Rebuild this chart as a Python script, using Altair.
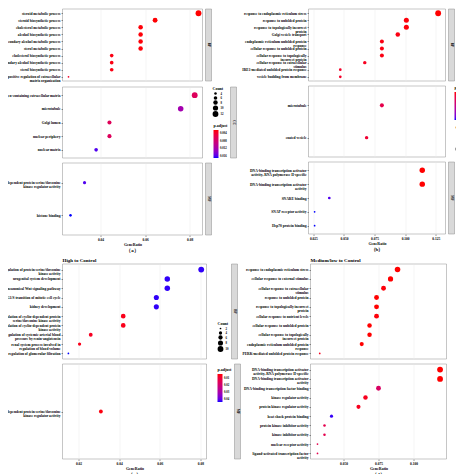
import altair as alt
import pandas as pd

FONT = "Liberation Serif"

# ---------------- (a) High to Control ----------------
a_title = "High to Control"
a_caption = "（a）"
a_bp_terms = ["steroid metabolic process", "steroid biosynthetic process", "cholesterol metabolic process",
              "alcohol biosynthetic process", "secondary alcohol metabolic process", "sterol metabolic process",
              "cholesterol biosynthetic process", "secondary alcohol biosynthetic process",
              "sterol biosynthetic process", "positive regulation of extracellular|matrix organization"]
a_bp_ratio = [0.084, 0.0645, 0.058, 0.058, 0.058, 0.058, 0.045, 0.045, 0.045, 0.0256]
a_bp_count = [12, 9, 8, 8, 8, 8, 6, 6, 6, 3]
a_bp_padj = [0.0025, 0.0026, 0.0027, 0.0027, 0.0027, 0.0027, 0.0030, 0.0030, 0.0030, 0.0040]
a_cc_terms = ["collagen-containing extracellular matrix", "microtubule", "Golgi lumen",
              "nuclear periphery", "nuclear matrix"]
a_cc_ratio = [0.0823, 0.076, 0.044, 0.044, 0.038]
a_cc_count = [12, 11, 7, 7, 6]
a_cc_padj = [0.0070, 0.0125, 0.0068, 0.0070, 0.0165]
a_mf_terms = ["cyclin-dependent protein serine/threonine|kinase regulator activity", "histone binding"]
a_mf_ratio = [0.0328, 0.0265]
a_mf_count = [5, 4]
a_mf_padj = [0.0165, 0.0175]
a_xticks = [0.04, 0.06, 0.08]
a_xdomain = [0.0229, 0.0858]
a_count_legend = [4, 6, 8, 10, 12]
a_count_domain = [3, 12]
a_padj_legend = [0.004, 0.008, 0.012, 0.016]
a_padj_domain = [0.0025, 0.0175]

# ---------------- (b) Medium/low to Control ----------------
b_title = "Medium/low to Control"
b_caption = "（b）"
b_bp_terms = ["response to endoplasmic reticulum stress", "response to unfolded protein",
              "response to topologically incorrect|protein", "Golgi vesicle transport",
              "endoplasmic reticulum unfolded protein|response", "cellular response to unfolded protein",
              "cellular response to topologically|incorrect protein", "cellular response to extracellular|stimulus",
              "IRE1-mediated unfolded protein response", "vesicle budding from membrane"]
b_bp_ratio = [0.127, 0.101, 0.101, 0.094, 0.081, 0.081, 0.081, 0.067, 0.047, 0.047]
b_bp_count = [10, 8, 8, 7, 6, 6, 6, 5, 4, 4]
b_bp_padj = [0.004, 0.0045, 0.0045, 0.005, 0.005, 0.005, 0.005, 0.006, 0.007, 0.007]
b_cc_terms = ["microtubule", "coated vesicle"]
b_cc_ratio = [0.081, 0.0685]
b_cc_count = [6, 5]
b_cc_padj = [0.011, 0.008]
b_mf_terms = ["DNA-binding transcription activator|activity, RNA polymerase II-specific",
              "DNA-binding transcription activator|activity", "SNARE binding",
              "SNAP receptor activity", "Hsp70 protein binding"]
b_mf_ratio = [0.114, 0.114, 0.038, 0.026, 0.026]
b_mf_count = [9, 9, 4, 3, 3]
b_mf_padj = [0.004, 0.004, 0.032, 0.034, 0.034]
b_xticks = [0.025, 0.050, 0.075, 0.100, 0.125]
b_xdomain = [0.021, 0.133]
b_count_legend = [4, 6, 8, 10]
b_count_domain = [3, 10]
b_padj_legend = [0.01, 0.02, 0.03]
b_padj_domain = [0.004, 0.034]

# ---------------- (c) High to Control ----------------
c_title = "High to Control"
c_caption = "（c）"
c_bp_terms = ["regulation of protein serine/threonine|kinase activity", "urogenital system development",
              "noncanonical Wnt signaling pathway", "G1/S transition of mitotic cell cycle",
              "kidney development", "regulation of cyclin-dependent protein|serine/threonine kinase activity",
              "regulation of cyclin-dependent protein|kinase activity",
              "regulation of systemic arterial blood|pressure by renin-angiotensin",
              "renal system process involved in|regulation of blood volume",
              "negative regulation of glomerular filtration"]
c_bp_ratio = [0.0804, 0.0637, 0.0637, 0.0583, 0.0583, 0.042, 0.042, 0.026, 0.0205, 0.015]
c_bp_count = [10, 9, 9, 8, 8, 7, 7, 5, 4, 2]
c_bp_padj = [0.044, 0.044, 0.044, 0.044, 0.044, 0.007, 0.007, 0.008, 0.007, 0.045]
c_mf_terms = ["cyclin-dependent protein serine/threonine|kinase regulator activity"]
c_mf_ratio = [0.031]
c_mf_count = [5]
c_mf_padj = [0.006]
c_xticks = [0.02, 0.04, 0.06, 0.08]
c_xdomain = [0.0121, 0.083]
c_count_legend = [2, 4, 6, 8, 10]
c_count_domain = [2, 10]
c_padj_legend = [0.01, 0.02, 0.03, 0.04]
c_padj_domain = [0.005, 0.045]

# ---------------- (d) Medium/low to Control ----------------
d_title = "Medium/low to Control"
d_caption = "（d）"
d_bp_terms = ["response to endoplasmic reticulum stress", "cellular response to external stimulus",
              "cellular response to extracellular|stimulus", "response to unfolded protein",
              "response to topologically incorrect|protein", "cellular response to nutrient levels",
              "cellular response to unfolded protein", "cellular response to topologically|incorrect protein",
              "endoplasmic reticulum unfolded protein|response", "PERK-mediated unfolded protein response"]
d_bp_ratio = [0.0886, 0.0836, 0.0786, 0.0736, 0.0736, 0.0736, 0.0686, 0.0686, 0.063, 0.033]
d_bp_count = [11, 10, 9, 9, 9, 9, 8, 8, 7, 3]
d_bp_padj = [0.002, 0.002, 0.0025, 0.002, 0.002, 0.0025, 0.002, 0.002, 0.002, 0.004]
d_mf_terms = ["DNA-binding transcription activator|activity, RNA polymerase II-specific",
              "DNA-binding transcription activator|activity", "DNA-binding transcription factor binding",
              "kinase regulator activity", "protein kinase regulator activity", "heat shock protein binding",
              "protein kinase inhibitor activity", "kinase inhibitor activity", "nuclear receptor activity",
              "ligand-activated transcription factor|activity"]
d_mf_ratio = [0.119, 0.119, 0.075, 0.0657, 0.0607, 0.0414, 0.0364, 0.0364, 0.0314, 0.0314]
d_mf_count = [12, 12, 9, 8, 7, 5, 4, 4, 3, 3]
d_mf_padj = [0.002, 0.002, 0.013, 0.004, 0.004, 0.034, 0.010, 0.010, 0.010, 0.010]
d_xticks = [0.050, 0.075, 0.100]
d_xdomain = [0.0264, 0.1236]
d_count_legend = [4, 8, 12]
d_count_domain = [3, 12]
d_padj_legend = [0.01, 0.02, 0.03]
d_padj_domain = [0.002, 0.035]

STRIP_W = 6
GRID = "#EBEBEB"


def dots(terms, ratio, count, padj, cfg, W, H, bottom=False, title=None, caption=None, cleg=None, sleg=None):
    df = pd.DataFrame({"term": terms, "GeneRatio": ratio, "Count": count, "padj": padj})
    if bottom:
        xaxis = alt.Axis(values=cfg["xticks"], format=cfg["xfmt"], title="GeneRatio", labelFontSize=3.5,
                         titleFontSize=4, tickSize=1.5, labelPadding=1, titlePadding=1, domain=False,
                         gridColor=GRID, gridWidth=0.5, tickColor="#333", tickWidth=0.5)
    else:
        xaxis = alt.Axis(values=cfg["xticks"], labels=False, ticks=False, title=None, domain=False,
                         gridColor=GRID, gridWidth=0.5)
    yaxis = alt.Axis(title=None, labelExpr="split(datum.label, '|')", labelFontSize=3.6,
                     labelLimit=cfg["labelLimit"], labelLineHeight=4, tickSize=1.5, tickWidth=0.5,
                     tickColor="#333", labelPadding=1, domain=False, gridColor=GRID, gridWidth=0.5)
    props = dict(width=W, height=H)
    if title is not None:
        props["title"] = alt.TitleParams(title, anchor="start", frame="group", fontSize=5, font=FONT,
                                         fontWeight="bold", offset=1.5, color="black")
    if caption is not None:
        props["title"] = alt.TitleParams(caption, orient="bottom", anchor="middle", frame="group", fontSize=5,
                                         font=FONT, fontWeight="bold", offset=1.5, color="black")
    pd_lo, pd_hi = cfg["pdomain"]
    color_kw = dict(scale=alt.Scale(domain=[pd_hi, pd_lo], range=["#0000FF", "#FF0000"], interpolate="lab"))
    size_kw = dict(scale=alt.Scale(domain=cfg["sdomain"], range=[3, 34], zero=False))
    if cleg is not None:
        color_kw["legend"] = alt.Legend(orient="none", direction="vertical", legendX=cleg[0], legendY=cleg[1],
                                        title="p.adjust", values=cfg["plegend"], format=cfg["pfmt"],
                                        gradientLength=28, gradientThickness=5, labelFontSize=3,
                                        titleFontSize=4, titlePadding=2, labelOffset=1.5, padding=0,
                                        gradientStrokeWidth=0)
    else:
        color_kw["legend"] = None
    if sleg is not None:
        size_kw["legend"] = alt.Legend(orient="none", direction="vertical", legendX=sleg[0], legendY=sleg[1],
                                       title="Count", values=cfg["slegend"], symbolFillColor="black",
                                       symbolStrokeColor="black", symbolStrokeWidth=0, symbolOpacity=1,
                                       symbolType="circle", labelFontSize=3, titleFontSize=4, titlePadding=1,
                                       rowPadding=0, labelOffset=2, padding=0)
    else:
        size_kw["legend"] = None
    ch = alt.Chart(df).mark_circle(opacity=1).encode(
        x=alt.X("GeneRatio:Q", scale=alt.Scale(domain=cfg["xdomain"], nice=False, zero=False), axis=xaxis),
        y=alt.Y("term:N", sort=terms, scale=alt.Scale(padding=0.6), axis=yaxis),
        color=alt.Color("padj:Q", **color_kw),
        size=alt.Size("Count:Q", **size_kw),
    ).properties(**props)
    return ch


def strip(label, H):
    df = pd.DataFrame({"lab": [label]})
    base = alt.Chart(df)
    rect = base.mark_rect(fill="#D9D9D9", stroke="#8c8c8c", strokeWidth=0.5).encode(
        x=alt.value(0), x2=alt.value(STRIP_W), y=alt.value(0), y2=alt.value(H))
    txt = base.mark_text(angle=90, fontSize=3.5, font=FONT, fontWeight="bold", color="#1a1a1a").encode(
        x=alt.value(STRIP_W / 2), y=alt.value(H / 2), text="lab:N")
    return alt.layer(rect, txt).properties(width=STRIP_W, height=H, view=alt.ViewBackground(stroke=None))


def row(d, lab, H):
    return alt.hconcat(d, strip(lab, H), spacing=1).resolve_scale(color="independent", size="independent")


def panel(rows, spacing=3):
    return alt.vconcat(*rows, spacing=spacing).resolve_scale(color="independent", size="independent")


cfgA = dict(xticks=a_xticks, xfmt=".2f", xdomain=a_xdomain, labelLimit=80, plegend=a_padj_legend, pfmt=".3f",
            pdomain=a_padj_domain, slegend=a_count_legend, sdomain=a_count_domain)
cfgB = dict(xticks=b_xticks, xfmt=".3f", xdomain=b_xdomain, labelLimit=72, plegend=b_padj_legend, pfmt=".2f",
            pdomain=b_padj_domain, slegend=b_count_legend, sdomain=b_count_domain)
cfgC = dict(xticks=c_xticks, xfmt=".2f", xdomain=c_xdomain, labelLimit=77, plegend=c_padj_legend, pfmt=".2f",
            pdomain=c_padj_domain, slegend=c_count_legend, sdomain=c_count_domain)
cfgD = dict(xticks=d_xticks, xfmt=".3f", xdomain=d_xdomain, labelLimit=74, plegend=d_padj_legend, pfmt=".2f",
            pdomain=d_padj_domain, slegend=d_count_legend, sdomain=d_count_domain)

WA, WB, WC, WD = 140, 137, 144, 136
HC = 95

A = panel([
    row(dots(a_bp_terms, a_bp_ratio, a_bp_count, a_bp_padj, cfgA, WA, 72, title=a_title), "BP", 72),
    row(dots(a_cc_terms, a_cc_ratio, a_cc_count, a_cc_padj, cfgA, WA, 71,
             sleg=(150, 0), cleg=(151, 37)), "CC", 71),
    row(dots(a_mf_terms, a_mf_ratio, a_mf_count, a_mf_padj, cfgA, WA, 72, bottom=True, caption=a_caption), "MF", 72),
])
B = panel([
    row(dots(b_bp_terms, b_bp_ratio, b_bp_count, b_bp_padj, cfgB, WB, 72, title=b_title), "BP", 72),
    row(dots(b_cc_terms, b_cc_ratio, b_cc_count, b_cc_padj, cfgB, WB, 71,
             cleg=(146, 0), sleg=(147, 40)), "CC", 71),
    row(dots(b_mf_terms, b_mf_ratio, b_mf_count, b_mf_padj, cfgB, WB, 72, bottom=True, caption=b_caption), "MF", 72),
])
C = panel([
    row(dots(c_bp_terms, c_bp_ratio, c_bp_count, c_bp_padj, cfgC, WC, HC, title=c_title,
             sleg=(155, 58)), "BP", HC),
    row(dots(c_mf_terms, c_mf_ratio, c_mf_count, c_mf_padj, cfgC, WC, HC, bottom=True, caption=c_caption,
             cleg=(155, 4)), "MF", HC),
])
D = panel([
    row(dots(d_bp_terms, d_bp_ratio, d_bp_count, d_bp_padj, cfgD, WD, HC, title=d_title,
             cleg=(147, 60)), "BP", HC),
    row(dots(d_mf_terms, d_mf_ratio, d_mf_count, d_mf_padj, cfgD, WD, HC, bottom=True, caption=d_caption,
             sleg=(148, 6)), "MF", HC),
])

top = alt.hconcat(A, B, spacing=3).resolve_scale(color="independent", size="independent")
bottom = alt.hconcat(C, D, spacing=0).resolve_scale(color="independent", size="independent")

chart = alt.vconcat(top, bottom, spacing=4).resolve_scale(
    color="independent", size="independent"
).properties(
    padding={"left": -14.5, "top": -6, "right": -25.5, "bottom": -3}
).configure_view(
    stroke="#8c8c8c", strokeWidth=0.5
).configure_axis(
    labelFont=FONT, titleFont=FONT, labelFontWeight="bold", titleFontWeight="bold",
    labelColor="black", titleColor="black"
).configure_legend(
    labelFont=FONT, titleFont=FONT, labelFontWeight="bold", titleFontWeight="bold",
    labelColor="black", titleColor="black"
)

chart.save("out.html", embed_options={"renderer": "svg", "actions": False})
